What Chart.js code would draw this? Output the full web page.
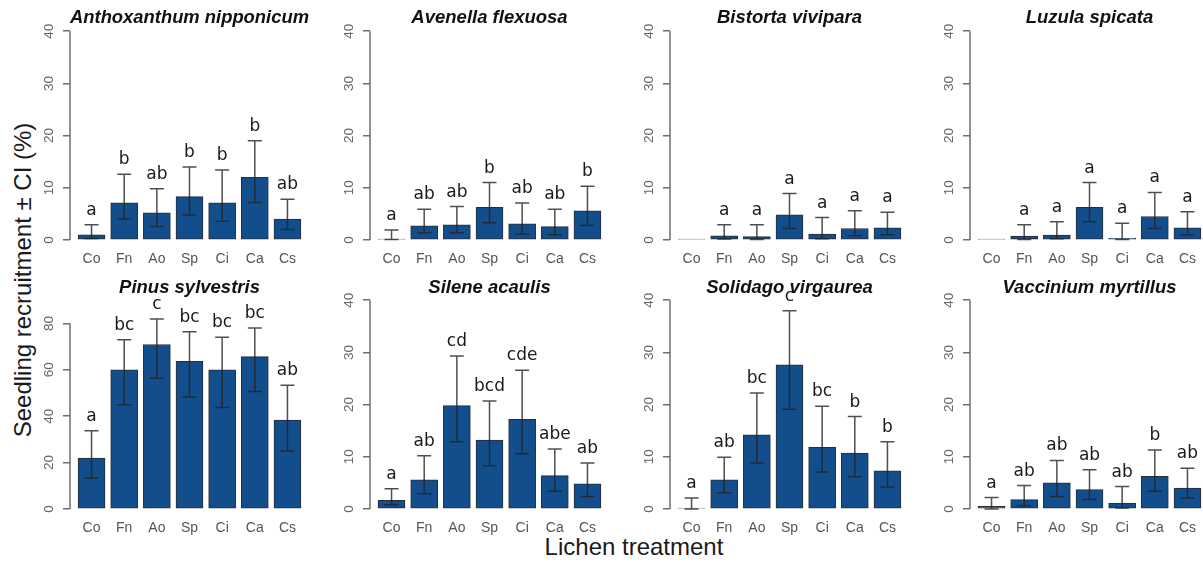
<!DOCTYPE html>
<html>
<head>
<meta charset="utf-8">
<script src="https://cdn.jsdelivr.net/npm/chart.js@4.4.1/dist/chart.umd.min.js"></script>
<style>
  body { margin: 0; width: 1203px; height: 563px; overflow: hidden; background: #fff; position: relative; font-family: "Liberation Sans", Arial, sans-serif; }
  canvas.panel { position: absolute; }
  #ylab { position: absolute; left: 23px; top: 280px; transform: translate(-50%, -50%) rotate(-90deg); font-size: 24px; color: #1a1a1a; white-space: nowrap; }
  #xlab { position: absolute; left: 634px; top: 547px; transform: translate(-50%, -50%); font-size: 24px; color: #1a1a1a; white-space: nowrap; }
</style>
</head>
<body>
<div id="ylab">Seedling recruitment ± CI (%)</div>
<div id="xlab">Lichen treatment</div>
<script>
// treatments on the x axis
const treatments = ['Co', 'Fn', 'Ao', 'Sp', 'Ci', 'Ca', 'Cs']

const species = [
  'Anthoxanthum nipponicum', 'Avenella flexuosa', 'Bistorta vivipara', 'Luzula spicata',
  'Pinus sylvestris', 'Silene acaulis', 'Solidago virgaurea', 'Vaccinium myrtillus'
]

// mean recruitment (%) per species, one row per species
const means = [
  [1.0, 7.1, 5.2, 8.3, 7.1, 12.0, 4.0],
  [0.15, 2.7, 2.9, 6.25, 3.1, 2.55, 5.6],
  [0, 0.8, 0.65, 4.8, 1.15, 2.2, 2.35],
  [0, 0.75, 0.95, 6.25, 0.3, 4.5, 2.35],
  [21.9, 60, 70.9, 63.6, 60, 65.7, 38.3],
  [1.65, 5.6, 19.8, 13.2, 17.2, 6.4, 4.8],
  [0.15, 5.6, 14.2, 27.6, 11.8, 10.7, 7.3],
  [0.5, 1.8, 5.0, 3.7, 1.15, 6.25, 4.0]
]

const lowerCI = [
  [0.3, 4.0, 2.6, 4.8, 3.6, 7.2, 2.0],
  [0.1, 1.4, 1.4, 3.3, 1.15, 1.0, 2.8],
  [null, 0.2, 0.1, 2.2, 0.25, 0.8, 1.0],
  [null, 0.1, 0.25, 3.5, 0.1, 2.2, 0.95],
  [13.3, 44.9, 56.4, 48.3, 43.7, 50.7, 25],
  [0.8, 2.9, 12.9, 8.3, 10.6, 3.4, 2.4],
  [0, 3.1, 8.8, 19.1, 7.1, 6.2, 4.2],
  [0, 0.6, 2.4, 1.8, 0.2, 3.4, 2.1]
]

const upperCI = [
  [2.9, 12.6, 9.8, 14.0, 13.4, 19.0, 7.8],
  [1.9, 5.9, 6.4, 11.0, 7.1, 5.9, 10.3],
  [null, 2.9, 2.9, 8.9, 4.3, 5.6, 5.3],
  [null, 2.9, 3.5, 11.0, 3.2, 9.1, 5.4],
  [33.7, 73, 81.9, 76.4, 74, 78, 53.3],
  [3.9, 10.2, 29.3, 20.7, 26.6, 11.5, 8.8],
  [2.1, 9.9, 22.2, 38.0, 19.7, 17.7, 12.9],
  [2.2, 4.5, 9.3, 7.5, 4.3, 11.3, 7.8]
]

const letters = [
  ['a', 'b', 'ab', 'b', 'b', 'b', 'ab'],
  ['a', 'ab', 'ab', 'b', 'ab', 'ab', 'b'],
  [null, 'a', 'a', 'a', 'a', 'a', 'a'],
  [null, 'a', 'a', 'a', 'a', 'a', 'a'],
  ['a', 'bc', 'c', 'bc', 'bc', 'bc', 'ab'],
  ['a', 'ab', 'cd', 'bcd', 'cde', 'abe', 'ab'],
  ['a', 'ab', 'bc', 'c', 'bc', 'b', 'b'],
  ['a', 'ab', 'ab', 'ab', 'ab', 'b', 'ab']
]

// y tick labels
const ticksPct = [0, 10, 20, 30, 40]
const ticksPinus = [0, 20, 40, 60, 80]

const barFill = '#134e8c'
const barEdge = '#2a2d33'
const axisGrey = '#6e6e6e'

// error bars, letters and the R-style y axis line
const extras = {
  id: 'extras',
  afterDatasetsDraw(chart, args, opts) {
    const { ctx } = chart
    const xs = chart.scales.x, ys = chart.scales.y
    const i = opts.idx
    ctx.save()
    // y axis line, first to last tick like R
    const tk = ys.ticks
    ctx.strokeStyle = axisGrey
    ctx.lineWidth = 1.5
    ctx.beginPath()
    ctx.moveTo(ys.right, ys.getPixelForValue(tk[0].value))
    ctx.lineTo(ys.right, ys.getPixelForValue(tk[tk.length - 1].value))
    ctx.stroke()

    treatments.forEach((t, k) => {
      const x = xs.getPixelForValue(k + 1)
      const lo = lowerCI[i][k], hi = upperCI[i][k]
      if (lo !== null && hi !== null) {
        const y1 = ys.getPixelForValue(lo), y2 = ys.getPixelForValue(hi)
        ctx.strokeStyle = 'rgba(35,35,35,0.8)'
        ctx.lineWidth = 1.5
        ctx.beginPath()
        ctx.moveTo(x, y1); ctx.lineTo(x, y2)
        ctx.moveTo(x - 7, y1); ctx.lineTo(x + 7, y1)
        ctx.moveTo(x - 7, y2); ctx.lineTo(x + 7, y2)
        ctx.stroke()
      }
      const lab = letters[i][k]
      if (lab) {
        ctx.fillStyle = '#1a1a1a'
        ctx.font = '17px "DejaVu Sans"'
        ctx.textAlign = 'center'
        ctx.textBaseline = 'alphabetic'
        ctx.fillText(lab, x, ys.getPixelForValue(hi) - 10)
      }
    })
    ctx.restore()
  }
}

species.forEach((name, i) => {
  const row = i < 4 ? 0 : 1
  const col = i % 4
  const cv = document.createElement('canvas')
  cv.className = 'panel'
  const h = row === 0 ? 270 : 293
  cv.width = 310
  cv.height = h
  cv.style.left = (col * 300) + 'px'
  cv.style.top = (row === 0 ? 0 : 270) + 'px'
  cv.style.width = '310px'
  cv.style.height = h + 'px'
  document.body.appendChild(cv)

  const isPinus = i === 4
  const yTicks = isPinus ? ticksPinus : ticksPct

  new Chart(cv, {
    type: 'bar',
    data: {
      datasets: [{
        data: means[i].map((v, k) => ({ x: k + 1, y: v })),
        backgroundColor: barFill,
        borderColor: barEdge,
        borderWidth: 1,
        borderSkipped: false,
        barThickness: 27,
        minBarLength: 1
      }]
    },
    options: {
      responsive: false,
      animation: false,
      events: [],
      layout: { padding: { left: 0, right: 1, top: 0, bottom: 0 } },
      plugins: {
        legend: { display: false },
        tooltip: { enabled: false },
        title: {
          display: true,
          text: name,
          fullSize: false,
          color: '#111',
          font: { family: '"Liberation Sans", Arial', size: 18.5, weight: 'bold', style: 'italic' },
          padding: { top: 7, bottom: row === 0 ? 2 : 1 }
        },
        extras: { idx: i }
      },
      scales: {
        x: {
          type: 'linear',
          offset: false,
          min: 0.34,
          max: 7.66,
          grid: { display: false, drawTicks: false },
          border: { display: false },
          afterBuildTicks: s => { s.ticks = treatments.map((t, k) => ({ value: k + 1 })) },
          afterFit: s => { s.height = row === 0 ? 30 : 54 },
          ticks: {
            autoSkip: false,
            maxRotation: 0,
            padding: 11,
            color: '#555',
            font: { family: '"Liberation Sans", Arial', size: 14 },
            callback: v => treatments[v - 1]
          }
        },
        y: {
          min: 0,
          max: isPinus ? 90 : 40,
          grid: { drawOnChartArea: false, drawTicks: true, tickLength: 7, color: axisGrey, lineWidth: 1.5 },
          border: { display: false },
          afterBuildTicks: s => { s.ticks = yTicks.map(v => ({ value: v })) },
          afterFit: s => { s.width = 70 },
          ticks: {
            minRotation: 90,
            maxRotation: 90,
            crossAlign: 'center',
            padding: 6,
            color: '#666',
            font: { family: '"Liberation Sans", Arial', size: 13.5 }
          }
        }
      }
    },
    plugins: [extras]
  })
})
</script>
</body>
</html>
